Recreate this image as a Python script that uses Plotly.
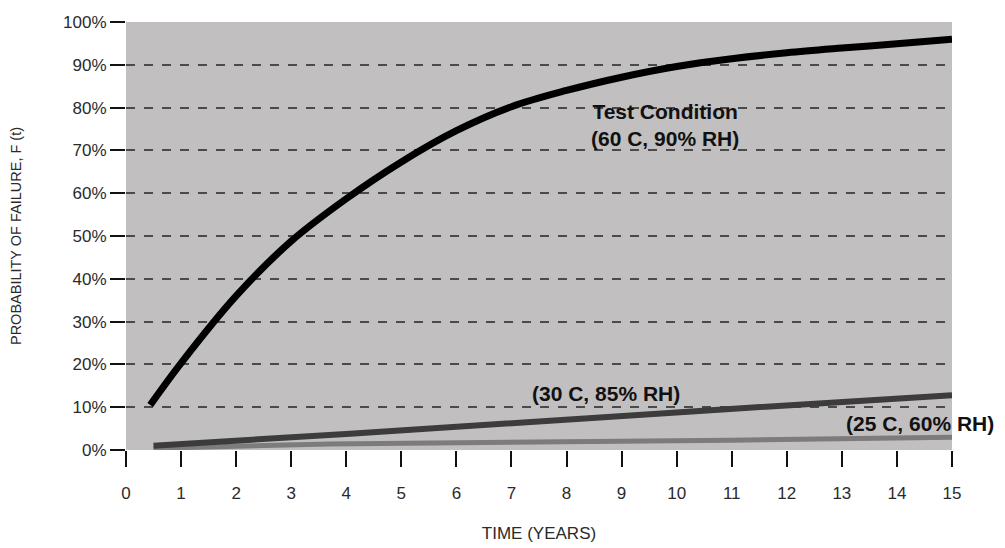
import plotly.graph_objects as go

# Data
test_years = [0.44, 1, 2, 3, 4, 5, 6, 7, 8, 9, 10, 11, 12, 13, 14, 15]
test_fail = [10.5, 20.3, 36.0, 48.8, 58.7, 67.3, 74.6, 80.2, 84.0, 87.1, 89.6, 91.4, 92.8, 93.9, 94.9, 96]

c30_years = [0.5, 4.07, 10.97, 15.0]
c30_fail = [1.0, 3.8, 9.6, 12.8]

c25_years = [0.5, 3.7, 10.97, 15.0]
c25_fail = [0.4, 1.4, 2.3, 3.0]

x_ticks = list(range(0, 16))
y_ticks = [0, 10, 20, 30, 40, 50, 60, 70, 80, 90, 100]
y_tick_text = [f"{v}%" for v in y_ticks]
grid_vals = [10, 20, 30, 40, 50, 60, 70, 80, 90]

label_test = "Test Condition<br>(60 C, 90% RH)"
label_30 = "(30 C, 85% RH)"
label_25 = "(25 C, 60% RH)"

REG = "Liberation Sans, Arial, sans-serif"

fig = go.Figure()

fig.add_trace(go.Scatter(x=c25_years, y=c25_fail, mode="lines",
                         line=dict(color="#7c7c7c", width=5), showlegend=False))
fig.add_trace(go.Scatter(x=c30_years, y=c30_fail, mode="lines",
                         line=dict(color="#3c3c3c", width=6), showlegend=False))
fig.add_trace(go.Scatter(x=test_years, y=test_fail, mode="lines",
                         line=dict(color="#000000", width=7, shape="spline", smoothing=1.0),
                         showlegend=False))

fig.update_layout(
    width=997, height=540,
    margin=dict(l=118, r=53, t=14, b=98),
    paper_bgcolor="white",
    plot_bgcolor="#c1bfc0",
    xaxis=dict(range=[0, 15], tickvals=x_ticks, ticktext=[str(v) for v in x_ticks],
               showgrid=False, zeroline=False, showline=False, automargin=False,
               ticks="outside", ticklen=16, tickwidth=2, tickcolor="#111",
               ticklabelstandoff=12,
               tickfont=dict(family=REG, size=17, color="#2a2a2a"),
               title=dict(text="TIME (YEARS)", standoff=24,
                          font=dict(family=REG, size=17, color="#2a2a2a"))),
    yaxis=dict(range=[0, 100], tickvals=y_ticks, ticktext=y_tick_text,
               showgrid=False, zeroline=False, showline=False, automargin=False,
               ticks="outside", ticklen=15, tickwidth=2, tickcolor="#111",
               ticklabelstandoff=0,
               tickfont=dict(family=REG, size=17, color="#2a2a2a"),
               title=dict(text="PROBABILITY OF FAILURE, F (t)", standoff=40,
                          font=dict(family=REG, size=14.5, color="#2a2a2a"))),
    yaxis2=dict(range=[0, 100], overlaying="y", tickvals=grid_vals, automargin=False,
                showgrid=True, gridcolor="#4a4a4a", gridwidth=2, griddash="9px,9px",
                showticklabels=False, ticks="", zeroline=False, showline=False,
                layer="below traces"),
)

# invisible trace to activate yaxis2 grid
fig.add_trace(go.Scatter(x=[None], y=[None], yaxis="y2", showlegend=False, hoverinfo="skip"))

ann_font = dict(family=REG, size=21, color="#111", weight="bold")
fig.add_annotation(x=9.79, y=76, text=label_test, showarrow=False, font=ann_font)
fig.add_annotation(x=8.72, y=13.3, text=label_30, showarrow=False, font=ann_font)
fig.add_annotation(x=14.42, y=6.3, text=label_25, showarrow=False, font=ann_font)

fig.write_html("out.html")
